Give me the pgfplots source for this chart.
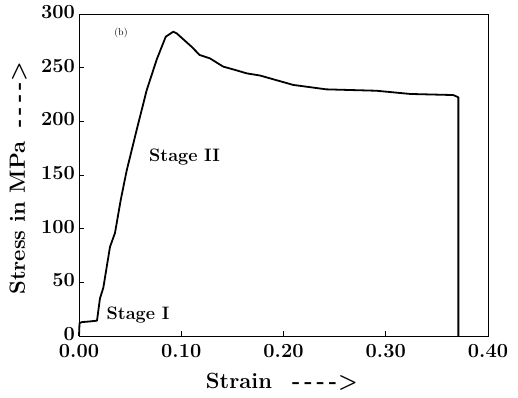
\documentclass[border=0pt]{standalone}
\usepackage{pgfplots}
\pgfplotsset{compat=1.18}
\begin{document}
\begin{tikzpicture}
\begin{axis}[
  scale only axis, width=409pt, height=322pt,
  xmin=0, xmax=0.4, ymin=0, ymax=300,
  xtick={0,0.1,0.2,0.3,0.4}, ytick={0,50,100,150,200,250,300},
  /pgf/number format/assume math mode=true,
  tick label style={font=\fontsize{20}{22}\selectfont\bfseries, inner sep=1pt},
  xticklabel style={yshift=-7.5pt, /pgf/number format/fixed, /pgf/number format/fixed zerofill, /pgf/number format/precision=2},
  yticklabel style={xshift=-3pt, yshift=2pt},
  tick align=inside, tick pos=left, major tick length=5pt,
  axis line style={line width=0.8pt}, tick style={line width=0.8pt, black},
  xlabel={Strain\hspace{20pt}-\kern4pt-\kern4pt-\kern4pt-\kern1pt>},
  ylabel={Stress in MPa\hspace{14pt}-\kern4pt-\kern4pt-\kern4pt-\kern1pt>},
  label style={font=\fontsize{22}{24}\selectfont\bfseries},
  xlabel style={at={(axis description cs:0.496,-0.143)}, anchor=center},
  ylabel style={at={(axis description cs:-0.149,0.49)}, anchor=center},
  clip=false,
]
\addplot[black, line width=1.8pt, line join=round] coordinates {
(0,0) (0.0005,12) (0.003,13) (0.010,13.5) (0.0176,14.3) (0.0205,35) (0.0238,45)
(0.0303,83) (0.0352,96) (0.0408,126.7) (0.0466,154) (0.0564,192) (0.0662,229)
(0.076,257.6) (0.0848,278.8) (0.0873,280.4) (0.0922,283.5) (0.0955,282)
(0.110,269.6) (0.118,261.8) (0.128,258.7) (0.141,251) (0.153,247.8) (0.164,244.7)
(0.177,242.7) (0.2096,233.9) (0.242,229.8) (0.291,228.5) (0.324,225.5)
(0.366,224.5) (0.371,222.4) (0.371,0)
};
\node[font=\fontsize{10}{12}\selectfont] at (axis cs:0.0411,282.3) {(b)};
\node[font=\fontsize{18}{20}\selectfont\bfseries] at (axis cs:0.1032,166.8) {Stage II};
\node[font=\fontsize{18}{20}\selectfont\bfseries] at (axis cs:0.0577,19.6) {Stage I};
\end{axis}
\path ([xshift=-79pt,yshift=-61pt]current axis.south west) rectangle ++(518pt,397pt);
\end{tikzpicture}
\end{document}
